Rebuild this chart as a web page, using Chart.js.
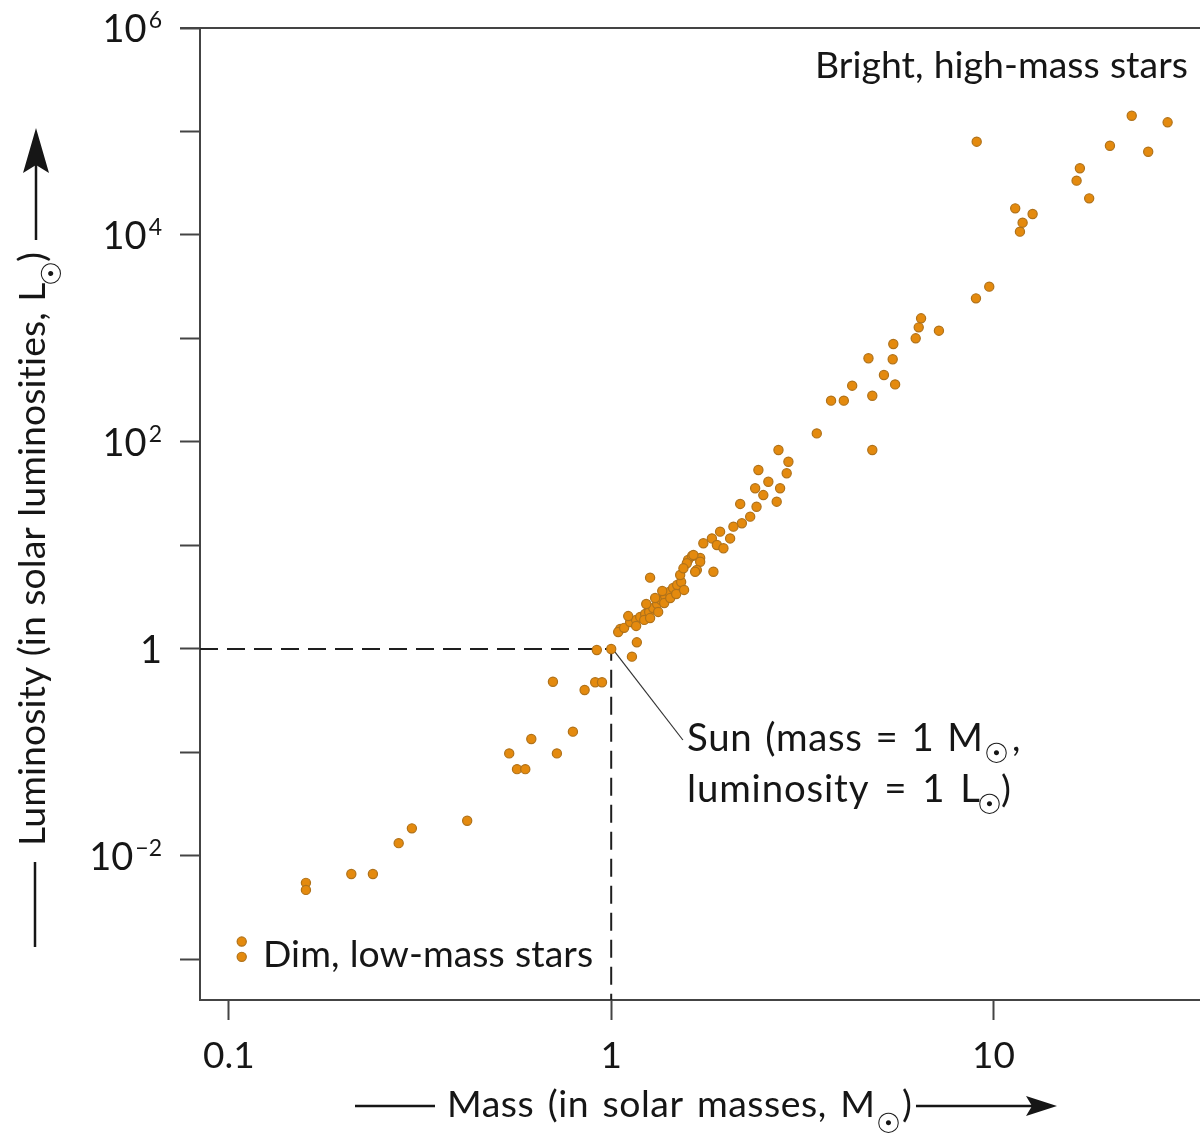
<!DOCTYPE html>
<html><head><meta charset="utf-8">
<script src="https://cdn.jsdelivr.net/npm/chart.js@4/dist/chart.umd.min.js"></script>
<style>html,body{margin:0;padding:0;background:#fff}#wrap{width:1200px;height:1135px}</style>
</head><body><div id="wrap"><canvas id="c" width="1200" height="1135"></canvas></div>
<script>
// ---- data (mass in solar masses, luminosity in solar luminosities) ----
const massValues = [
  0.108, 0.108, 0.159, 0.159, 0.209, 0.238, 0.278, 0.301, 0.420, 0.541,
  0.567, 0.596, 0.618, 0.721, 0.794, 0.704, 0.852, 0.908, 0.946, 0.917,
  1.00, 1.264, 1.056, 1.167, 1.133, 1.851,
  1.043, 1.081, 1.121, 1.162, 1.191, 1.227, 1.257, 1.288, 1.319, 1.351,
  1.384, 1.418, 1.452, 1.488, 1.524, 1.162, 1.220, 1.264, 1.327, 1.376,
  1.427, 1.479, 1.551, 1.108, 1.235, 1.303, 1.360, 1.515, 1.589, 1.628, 1.709,
  2.739, 2.908, 2.878, 2.427, 2.577, 2.766, 2.380, 2.710, 2.500, 2.175,
  2.400, 2.310, 2.197, 2.088, 1.927, 2.047, 1.834, 1.742, 1.890, 1.966,
  1.641, 1.709, 1.577, 1.675, 1.545, 1.658,
  3.45, 3.76, 4.06, 4.27, 4.82, 5.17, 5.53, 4.71, 5.45, 5.47,
  6.26, 6.375, 6.466, 7.20, 9.00, 9.75, 4.82,
  9.04, 11.73, 11.92, 12.66, 11.40, 17.8, 16.5, 16.83, 20.17, 25.4, 23.0, 28.55
];
const luminosityValues = [
  0.00149, 0.00106, 0.0055, 0.0047, 0.0067, 0.0067, 0.0133, 0.0185, 0.0219, 0.098,
  0.069, 0.069, 0.135, 0.098, 0.159, 0.483, 0.402, 0.477, 0.477, 0.978,
  1.00, 4.89, 1.56, 1.16, 0.843, 5.58,
  1.46, 1.60, 1.82, 1.91, 2.04, 2.18, 2.28, 2.49, 2.72, 2.97,
  3.25, 3.55, 3.88, 4.15, 4.44, 1.67, 1.91, 1.99, 2.28, 2.78,
  3.11, 3.40, 3.72, 2.08, 2.72, 3.11, 3.63, 5.19, 7.24, 7.92, 7.57,
  83.7, 64.5, 49.9, 53.6, 41.3, 35.7, 35.7, 26.5, 30.7, 25.2,
  23.7, 19.0, 16.4, 15.2, 13.6, 11.7, 11.7, 10.5, 10.1, 9.4,
  8.09, 6.97, 6.73, 5.80, 6.02, 5.58,
  121, 251, 251, 350, 280, 444, 360, 644, 630, 885,
  1004, 1282, 1567, 1190, 2444, 3170, 83.7,
  79700, 10770, 13150, 15960, 18100, 22600, 33500, 44100, 72900, 63800, 142000, 122700
];
const xTickValues = [0.1, 1, 10];
const xTickLabels = ['0.1', '1', '10'];
const yTickValues = [1e-3, 1e-2, 1e-1, 1, 10, 100, 1e3, 1e4, 1e5, 1e6];
const yTickBases = ['', '10', '', '1', '', '10', '', '10', '', '10'];
const yTickExponents = ['', '\u22122', '', '', '', '2', '', '4', '', '6'];
const xRange = [0.084, 34.7];
const yRange = [4.06e-4, 1e6];
const sunMass = 1;
const sunLum = 1;
const leaderMass = [1.02, 1.54];
const leaderLum = [0.95, 0.132];

const FONT = 'Lato, "DejaVu Sans", sans-serif';
const SYM = '"DejaVu Sans", sans-serif';
const INK = '#161616';
const SUN = '\u2609';

const points = massValues.map((m, i) => ({x: m, y: luminosityValues[i]}));
const dashed = [{x: xRange[0], y: sunLum}, {x: sunMass, y: sunLum}, {x: sunMass, y: yRange[0]}];
const leader = [{x: leaderMass[0], y: leaderLum[0]}, {x: leaderMass[1], y: leaderLum[1]}];

function resetSpacing(ctx) { ctx.letterSpacing = '0px'; ctx.wordSpacing = '0px'; }
// draw text so that it spans a given width: grow the size a little, then share the rest between letters and word gaps
function fitText(ctx, text, base, family, x, y, target, maxScale) {
  resetSpacing(ctx);
  ctx.font = base + 'px ' + family;
  const w0 = ctx.measureText(text).width;
  if (!target) { ctx.fillText(text, x, y); return x + w0; }
  const s = base * Math.min(target / w0, maxScale || 1.1);
  ctx.font = s.toFixed(2) + 'px ' + family;
  const w = ctx.measureText(text).width;
  const residual = target - w;
  const spaces = (text.match(/ /g) || []).length;
  if (residual > 0.5) {
    if (spaces) {
      ctx.letterSpacing = (residual * 0.5 / Math.max(1, text.length - 1)).toFixed(2) + 'px';
      ctx.wordSpacing = (residual * 0.5 / spaces).toFixed(2) + 'px';
    } else {
      ctx.letterSpacing = (residual / Math.max(1, text.length - 1)).toFixed(2) + 'px';
    }
  }
  ctx.fillText(text, x, y);
  resetSpacing(ctx);
  return x + target;
}
function drawSub(ctx, sym, size, x, y, dy) {
  resetSpacing(ctx);
  ctx.font = size + 'px ' + SYM;
  ctx.fillText(sym, x, y + dy);
  return x + ctx.measureText(sym).width;
}
function plainW(ctx, t, size, family) {
  resetSpacing(ctx);
  ctx.font = size + 'px ' + family;
  return ctx.measureText(t).width;
}

const textPlugin = {
  id: 'texts',
  afterDraw(chart) {
    const ctx = chart.ctx, a = chart.chartArea;
    const ys = chart.scales.y;
    ctx.save();
    // top border
    ctx.strokeStyle = '#444'; ctx.lineWidth = 2;
    ctx.beginPath(); ctx.moveTo(a.left - 20, a.top); ctx.lineTo(a.right, a.top); ctx.stroke();

    ctx.fillStyle = INK; ctx.textBaseline = 'alphabetic'; ctx.textAlign = 'left';

    // y tick labels with real superscripts, placed through the y scale
    yTickValues.forEach((v, i) => {
      const base = yTickBases[i];
      if (!base) return;
      const py = ys.getPixelForValue(v);
      const exp = yTickExponents[i];
      const right = 162;
      const ew = exp ? plainW(ctx, exp, 23, FONT) + 2 : 0;
      const bw = plainW(ctx, base, 38, FONT);
      ctx.font = '38px ' + FONT;
      ctx.fillText(base, right - ew - bw, py + 14);
      if (exp) { ctx.font = '23px ' + FONT; ctx.fillText(exp, right - ew + 2, py); }
    });

    // annotations
    fitText(ctx, 'Bright, high-mass stars', 34, FONT, 815, 78, 373);
    fitText(ctx, 'Dim, low-mass stars', 34, FONT, 263, 967, 330);
    let e = fitText(ctx, 'Sun (mass = 1 M', 34, FONT, 687, 751, 296, 1.13);
    e = drawSub(ctx, SUN, 28, e + 1, 751, 12);
    fitText(ctx, ',', 37, FONT, e + 3, 751);
    e = fitText(ctx, 'luminosity = 1 L', 34, FONT, 687, 802, 293, 1.13);
    e = drawSub(ctx, SUN, 28, e - 3, 802, 12);
    fitText(ctx, ')', 37, FONT, e - 1, 802);

    // x title
    ctx.strokeStyle = INK; ctx.lineWidth = 2.5;
    e = fitText(ctx, 'Mass (in solar masses, M', 34, FONT, 447, 1117, 428);
    e = drawSub(ctx, SUN, 28, e + 1, 1117, 16);
    e = fitText(ctx, ')', 37, FONT, e + 1, 1117);
    ctx.beginPath(); ctx.moveTo(355, 1106); ctx.lineTo(435, 1106); ctx.stroke();
    ctx.beginPath(); ctx.moveTo(e + 4, 1106); ctx.lineTo(1035, 1106); ctx.stroke();
    ctx.beginPath(); ctx.moveTo(1057, 1106); ctx.lineTo(1026, 1096); ctx.lineTo(1032, 1106); ctx.lineTo(1026, 1116); ctx.closePath(); ctx.fill();

    // y title (rotated)
    ctx.save();
    ctx.translate(45, 846); ctx.rotate(-Math.PI / 2);
    e = fitText(ctx, 'Luminosity (in solar luminosities, L', 34, FONT, 0, 0, 564);
    e = drawSub(ctx, SUN, 28, e - 4, 0, 16);
    e = fitText(ctx, ')', 37, FONT, e - 1, 0);
    ctx.restore();
    const topY = 846 - e;
    ctx.beginPath(); ctx.moveTo(35, 862); ctx.lineTo(35, 947); ctx.stroke();
    ctx.beginPath(); ctx.moveTo(36, topY - 12); ctx.lineTo(36, 150); ctx.stroke();
    ctx.beginPath(); ctx.moveTo(36, 128); ctx.lineTo(23, 173); ctx.lineTo(36, 165); ctx.lineTo(49, 173); ctx.closePath(); ctx.fill();
    ctx.restore();
  }
};

new Chart(document.getElementById('c'), {
  type: 'scatter',
  data: {
    datasets: [
      {data: points, pointRadius: 4.6, pointBackgroundColor: '#e48a0e', pointBorderColor: '#b0721a', pointBorderWidth: 1.2, showLine: false},
      {data: dashed, showLine: true, pointRadius: 0, borderColor: '#1e1e1e', borderWidth: 2, borderDash: [18, 9], fill: false},
      {data: leader, showLine: true, pointRadius: 0, borderColor: '#333', borderWidth: 1.2, fill: false}
    ]
  },
  plugins: [textPlugin],
  options: {
    responsive: false, animation: false,
    layout: {autoPadding: false, padding: {top: 28, right: 0, left: 0, bottom: 0}},
    plugins: {legend: {display: false}, tooltip: {enabled: false}},
    scales: {
      x: {
        type: 'logarithmic', min: xRange[0], max: xRange[1],
        afterBuildTicks: s => { s.ticks = xTickValues.map(v => ({value: v})); },
        afterFit: s => { s.height = 135; s.paddingLeft = 0; s.paddingRight = 0; },
        border: {display: true, color: '#444', width: 2},
        grid: {drawOnChartArea: false, drawTicks: true, tickLength: 20, tickWidth: 2, tickColor: '#444'},
        ticks: {color: INK, font: {family: FONT, size: 37}, padding: 14, maxRotation: 0, autoSkip: false,
          callback: (v) => { const i = xTickValues.findIndex(t => Math.abs(t - v) / t < 1e-6); return i >= 0 ? xTickLabels[i] : ''; }}
      },
      y: {
        type: 'logarithmic', min: yRange[0], max: yRange[1],
        afterBuildTicks: s => { s.ticks = yTickValues.map(v => ({value: v})); },
        afterFit: s => { s.width = 200; s.paddingTop = 0; s.paddingBottom = 0; },
        border: {display: true, color: '#444', width: 2},
        grid: {drawOnChartArea: false, drawTicks: true, tickLength: 20, tickWidth: 2, tickColor: '#444'},
        ticks: {display: false, autoSkip: false}
      }
    }
  }
});
</script></body></html>
